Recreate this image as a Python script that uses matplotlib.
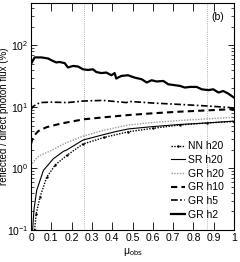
import matplotlib
matplotlib.use("Agg")
import matplotlib.pyplot as plt
from matplotlib.ticker import LogLocator, NullFormatter

plt.rcParams['font.family'] = ['Liberation Sans Narrow', 'Liberation Sans', 'DejaVu Sans']
plt.rcParams['mathtext.default'] = 'regular'

# ---- data ----
mu_h2 = [0.0, 0.018, 0.051, 0.084, 0.108, 0.125, 0.14, 0.166, 0.182, 0.207, 0.232, 0.256,
         0.281, 0.305, 0.322, 0.346, 0.371, 0.396, 0.412, 0.42, 0.445, 0.478, 0.511, 0.545,
         0.57, 0.594, 0.619, 0.652, 0.676, 0.701, 0.734, 0.758, 0.783, 0.816, 0.841, 0.873,
         0.898, 0.923, 0.947, 0.972, 1.0]
gr_h2 = [50, 64, 64, 61.5, 56, 53, 54, 51.6, 43.9, 46.5, 45.5, 41, 40, 41, 37, 35.6, 36.3,
         32.8, 35.6, 29, 32, 32.8, 30, 28.3, 25, 27.2, 26, 26.5, 23.4, 22.8, 22, 20.7, 21.2,
         21.2, 19.4, 18.8, 19.4, 17.2, 18.2, 16.5, 14.2]

mu_h5 = [0.0, 0.01, 0.044, 0.1, 0.18, 0.258, 0.355, 0.47, 0.488, 0.6, 0.734, 0.866, 0.98, 1.0]
gr_h5 = [9.0, 10.2, 11.8, 12.0, 11.8, 12.5, 12.8, 11.8, 12.3, 11.6, 11.0, 10.4, 9.8, 9.4]

mu_h10 = [0.0, 0.005, 0.015, 0.036, 0.077, 0.15, 0.258, 0.36, 0.48, 0.6, 0.734, 0.866, 0.98, 1.0]
gr_h10 = [2.5, 2.9, 3.4, 4.06, 4.7, 5.4, 6.3, 6.8, 7.4, 7.9, 8.4, 8.8, 9.2, 9.0]

mu_h20 = [0.0, 0.01, 0.025, 0.044, 0.094, 0.16, 0.258, 0.36, 0.48, 0.6, 0.734, 0.866, 1.0]
gr_h20 = [1.1, 1.25, 1.45, 1.63, 1.92, 2.5, 3.37, 4.2, 5.1, 5.6, 6.05, 6.4, 6.8]

mu_sr = [0.008, 0.015, 0.028, 0.061, 0.11, 0.16, 0.176, 0.256, 0.35, 0.42, 0.48, 0.6,
         0.734, 0.866, 1.0]
sr_h20 = [0.1, 0.22, 0.44, 0.93, 1.44, 1.9, 2.0, 2.9, 3.5, 4.0, 4.4, 4.8, 5.2, 5.5, 5.9]

mu_nn = [0.018, 0.025, 0.044, 0.077, 0.12, 0.176, 0.256, 0.36, 0.48, 0.6, 0.734, 0.866, 1.0]
nn_h20 = [0.1, 0.18, 0.34, 0.72, 1.15, 1.63, 2.5, 3.2, 3.96, 4.5, 5.1, 5.5, 5.8]

vlines_mu = [0.259, 0.866]
xticks = [0, 0.1, 0.2, 0.3, 0.4, 0.5, 0.6, 0.7, 0.8, 0.9, 1]
xticklabels = ['0', '0.1', '0.2', '0.3', '0.4', '0.5', '0.6', '0.7', '0.8', '0.9', '1']

# ---- figure ----
fig = plt.figure(figsize=(2.40, 2.62), dpi=100)
ax = fig.add_axes([31/240, 32/262, 203/240, 227.5/262])

for v in vlines_mu:
    ax.axvline(v, color='#999999', lw=0.6, ls=(0, (1, 1.5)), zorder=1)

ax.plot(mu_nn, nn_h20, color='black', lw=1.0, ls=(0, (1, 1)), marker='.', ms=1.5, label='NN h20')
ax.plot(mu_sr, sr_h20, color='black', lw=0.8, ls='-', label='SR h20')
ax.plot(mu_h20, gr_h20, color='#9a9a9a', lw=1.0, ls=(0, (1, 1)), label='GR h20')
ax.plot(mu_h10, gr_h10, color='black', lw=1.5, ls=(0, (3, 2)), label='GR h10')
ax.plot(mu_h5, gr_h5, color='black', lw=1.2, ls=(0, (4, 1.5, 1, 1.5)), label='GR h5')
ax.plot(mu_h2, gr_h2, color='black', lw=1.6, ls='-', label='GR h2')

ax.set_yscale('log')
ax.set_xlim(0, 1)
ax.set_ylim(0.1, 500)
ax.set_xticks(xticks)
ax.set_xticklabels(xticklabels)
ax.yaxis.set_major_locator(LogLocator(base=10, numticks=10))
ax.yaxis.set_minor_locator(LogLocator(base=10, subs=range(2, 10), numticks=20))
ax.yaxis.set_minor_formatter(NullFormatter())

ax.tick_params(which='both', direction='in', top=True, right=True, labelsize=7.5, pad=2)
ax.tick_params(axis='x', which='major', length=6, width=0.6)
ax.tick_params(axis='y', which='major', length=4, width=0.6)
ax.tick_params(axis='y', which='minor', length=2, width=0.5)
for s in ax.spines.values():
    s.set_linewidth(0.8)

ax.set_xlabel('μ$_{obs}$', fontsize=7.5, labelpad=2)
ax.set_ylabel('reflected / direct photon flux (%)', fontsize=7)
ax.yaxis.set_label_coords(-0.108, 0.5)
ax.text(0.92, 0.935, '(b)', transform=ax.transAxes, fontsize=7.5, ha='center', va='center')

ax.legend(loc='lower right', frameon=False, fontsize=7.5, handlelength=1.3,
          handletextpad=0.3, labelspacing=0.35, borderaxespad=0.8, borderpad=0.2)

fig.savefig('out.png', dpi=100)
